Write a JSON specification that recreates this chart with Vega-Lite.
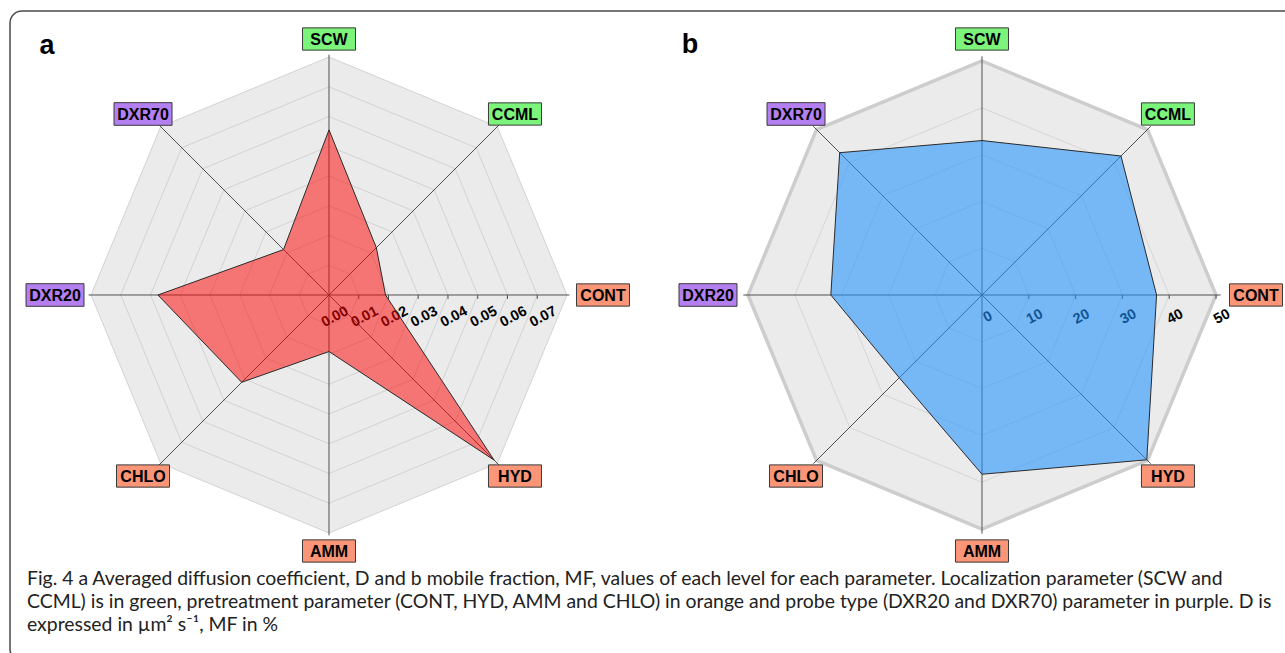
{
  "$schema": "https://vega.github.io/schema/vega-lite/v6.json",
  "width": 1290,
  "height": 650,
  "autosize": "none",
  "padding": {"left": 10, "top": 11, "right": 0, "bottom": 0},
  "background": "white",
  "config": {
    "view": {"stroke": "#4a4a4a", "strokeWidth": 1.5, "cornerRadius": 12, "fill": "white"},
    "font": "Liberation Sans"
  },
  "title": {
    "text": [
      "Fig. 4  a Averaged diffusion coefficient, D and b mobile fraction, MF, values of each level for each parameter. Localization parameter (SCW and",
      "CCML) is in green, pretreatment parameter (CONT, HYD, AMM and CHLO) in orange and probe type (DXR20 and DXR70) parameter in purple. D is",
      "expressed in µm² s⁻¹, MF in %"
    ],
    "orient": "bottom",
    "anchor": "start",
    "frame": "group",
    "offset": -76,
    "dx": 17,
    "font": "Lato",
    "fontSize": 19.4,
    "fontWeight": "normal",
    "color": "#222222",
    "lineHeight": 23,
    "baseline": "alphabetic"
  },
  "datasets": {
    "params": [
      {"param": "SCW", "idx": 0, "group": "loc", "D": 0.0555, "MF": 33.0},
      {"param": "CCML", "idx": 1, "group": "loc", "D": 0.0225, "MF": 42.0},
      {"param": "CONT", "idx": 2, "group": "pre", "D": 0.019, "MF": 37.3},
      {"param": "HYD", "idx": 3, "group": "pre", "D": 0.0785, "MF": 49.8},
      {"param": "AMM", "idx": 4, "group": "pre", "D": 0.019, "MF": 38.3},
      {"param": "CHLO", "idx": 5, "group": "pre", "D": 0.0415, "MF": 25.0},
      {"param": "DXR20", "idx": 6, "group": "probe", "D": 0.0575, "MF": 32.3},
      {"param": "DXR70", "idx": 7, "group": "probe", "D": 0.0216, "MF": 43.0}
    ],
    "gridA": [
      {"level": 0.01, "i": [0, 1, 2, 3, 4, 5, 6, 7]},
      {"level": 0.02, "i": [0, 1, 2, 3, 4, 5, 6, 7]},
      {"level": 0.03, "i": [0, 1, 2, 3, 4, 5, 6, 7]},
      {"level": 0.04, "i": [0, 1, 2, 3, 4, 5, 6, 7]},
      {"level": 0.05, "i": [0, 1, 2, 3, 4, 5, 6, 7]},
      {"level": 0.06, "i": [0, 1, 2, 3, 4, 5, 6, 7]},
      {"level": 0.07, "i": [0, 1, 2, 3, 4, 5, 6, 7]},
      {"level": 0.08, "i": [0, 1, 2, 3, 4, 5, 6, 7]}
    ],
    "gridB": [
      {"level": 10, "i": [0, 1, 2, 3, 4, 5, 6, 7]},
      {"level": 20, "i": [0, 1, 2, 3, 4, 5, 6, 7]},
      {"level": 30, "i": [0, 1, 2, 3, 4, 5, 6, 7]},
      {"level": 40, "i": [0, 1, 2, 3, 4, 5, 6, 7]},
      {"level": 50, "i": [0, 1, 2, 3, 4, 5, 6, 7]}
    ],
    "ticksA": [
      {"v": 0}, {"v": 0.01}, {"v": 0.02}, {"v": 0.03}, {"v": 0.04}, {"v": 0.05}, {"v": 0.06}, {"v": 0.07}
    ],
    "ticksB": [
      {"v": 0}, {"v": 10}, {"v": 20}, {"v": 30}, {"v": 40}, {"v": 50}
    ],
    "panelA": [{"letter": "a"}],
    "panelB": [{"letter": "b"}]
  },
  "resolve": {"scale": {"x": "independent", "y": "independent"}},
  "layer": [
    {
      "encoding": {
        "x": {"field": "x", "type": "quantitative", "scale": {"domain": [-0.107227, 0.326387], "nice": false, "zero": false}, "axis": null},
        "y": {"field": "y", "type": "quantitative", "scale": {"domain": [-0.123025, 0.095462], "nice": false, "zero": false}, "axis": null}
      },
      "layer": [
        {
          "data": {"name": "gridA"},
          "transform": [
            {"filter": "datum.level == 0.08"},
            {"flatten": ["i"]},
            {"calculate": "PI/2 - datum.i*PI/4", "as": "t"},
            {"calculate": "datum.level*cos(datum.t)", "as": "x"},
            {"calculate": "datum.level*sin(datum.t)", "as": "y"}
          ],
          "mark": {"type": "line", "interpolate": "linear-closed", "fill": "#ebebeb", "stroke": "#d2d2d2", "strokeWidth": 1},
          "encoding": {"order": {"field": "i", "type": "quantitative"}}
        },
        {
          "data": {"name": "gridA"},
          "transform": [
            {"filter": "datum.level < 0.08"},
            {"flatten": ["i"]},
            {"calculate": "PI/2 - datum.i*PI/4", "as": "t"},
            {"calculate": "datum.level*cos(datum.t)", "as": "x"},
            {"calculate": "datum.level*sin(datum.t)", "as": "y"}
          ],
          "mark": {"type": "line", "interpolate": "linear-closed", "stroke": "#d2d2d2", "strokeWidth": 1},
          "encoding": {"order": {"field": "i", "type": "quantitative"}, "detail": {"field": "level", "type": "nominal"}}
        },
        {
          "data": {"name": "params"},
          "transform": [
            {"calculate": "PI/2 - datum.idx*PI/4", "as": "t"},
            {"calculate": "0.0808*cos(datum.t)", "as": "x"},
            {"calculate": "0.0808*sin(datum.t)", "as": "y"}
          ],
          "mark": {"type": "rule", "stroke": "#505050", "strokeWidth": 1},
          "encoding": {"x2": {"datum": 0}, "y2": {"datum": 0}}
        },
        {
          "data": {"name": "ticksA"},
          "transform": [
            {"filter": "datum.v > 0"},
            {"calculate": "datum.v", "as": "x"},
            {"calculate": "0", "as": "y"},
            {"calculate": "-4/2975", "as": "y2"}
          ],
          "mark": {"type": "rule", "stroke": "#505050", "strokeWidth": 1},
          "encoding": {"y2": {"field": "y2"}}
        },
        {
          "data": {"name": "ticksA"},
          "transform": [
            {"calculate": "datum.v", "as": "x"},
            {"calculate": "0", "as": "y"}
          ],
          "mark": {"type": "text", "angle": 332, "xOffset": 6, "yOffset": 22, "fontSize": 14.5, "fontWeight": "bold", "align": "center", "baseline": "middle", "color": "#000000"},
          "encoding": {"text": {"field": "v", "type": "quantitative", "format": ".2f"}}
        },
        {
          "data": {"name": "params"},
          "transform": [
            {"calculate": "PI/2 - datum.idx*PI/4", "as": "t"},
            {"calculate": "datum.D*cos(datum.t)", "as": "x"},
            {"calculate": "datum.D*sin(datum.t)", "as": "y"}
          ],
          "mark": {"type": "line", "interpolate": "linear-closed", "fill": "#ff0000", "fillOpacity": 0.5, "stroke": "#2a2a2a", "strokeOpacity": 1, "strokeWidth": 1},
          "encoding": {"order": {"field": "idx", "type": "quantitative"}}
        },
        {
          "data": {"name": "params"},
          "transform": [
            {"calculate": "PI/2 - datum.idx*PI/4", "as": "t"},
            {"calculate": "cos(datum.t)*(abs(cos(datum.t)) > 0.9 ? 274 : 263)/2975", "as": "x"},
            {"calculate": "sin(datum.t)*256/2975", "as": "y"}
          ],
          "layer": [
            {
              "mark": {"type": "point", "stroke": "#3a3a3a", "strokeWidth": 1, "opacity": 1, "fillOpacity": 1, "strokeOpacity": 1},
              "encoding": {
                "fill": {"field": "group", "type": "nominal", "scale": {"domain": ["loc", "pre", "probe"], "range": ["#7cf47c", "#fa9677", "#b47ff1"]}, "legend": null},
                "shape": {"condition": {"test": "datum.group === 'probe'", "value": "M-1,-0.39H1V0.39H-1Z"}, "value": "M-1,-0.42H1V0.42H-1Z"},
                "size": {"condition": {"test": "datum.group === 'probe'", "value": 3364}, "value": 2809}
              }
            },
            {
              "mark": {"type": "text", "fontSize": 16, "fontWeight": "bold", "align": "center", "baseline": "middle", "dy": 1, "color": "#000000"},
              "encoding": {"text": {"field": "param"}}
            }
          ]
        },
        {
          "data": {"name": "panelA"},
          "transform": [
            {"calculate": "-282/2975", "as": "x"},
            {"calculate": "249/2975", "as": "y"}
          ],
          "mark": {"type": "text", "fontSize": 27, "fontWeight": "bold", "align": "center", "baseline": "middle", "color": "#000000"},
          "encoding": {"text": {"field": "letter"}}
        }
      ]
    },
    {
      "encoding": {
        "x": {"field": "x", "type": "quantitative", "scale": {"domain": [-207.692, 67.949], "nice": false, "zero": false}, "axis": null},
        "y": {"field": "y", "type": "quantitative", "scale": {"domain": [-78.205, 60.684], "nice": false, "zero": false}, "axis": null}
      },
      "layer": [
        {
          "data": {"name": "gridB"},
          "transform": [
            {"filter": "datum.level == 50"},
            {"flatten": ["i"]},
            {"calculate": "PI/2 - datum.i*PI/4", "as": "t"},
            {"calculate": "datum.level*cos(datum.t)", "as": "x"},
            {"calculate": "datum.level*sin(datum.t)", "as": "y"}
          ],
          "mark": {"type": "line", "interpolate": "linear-closed", "fill": "#ebebeb", "stroke": "#cdcdcd", "strokeWidth": 3.5},
          "encoding": {"order": {"field": "i", "type": "quantitative"}}
        },
        {
          "data": {"name": "gridB"},
          "transform": [
            {"filter": "datum.level < 50"},
            {"flatten": ["i"]},
            {"calculate": "PI/2 - datum.i*PI/4", "as": "t"},
            {"calculate": "datum.level*cos(datum.t)", "as": "x"},
            {"calculate": "datum.level*sin(datum.t)", "as": "y"}
          ],
          "mark": {"type": "line", "interpolate": "linear-closed", "stroke": "#d6d6d6", "strokeWidth": 1},
          "encoding": {"order": {"field": "i", "type": "quantitative"}, "detail": {"field": "level", "type": "nominal"}}
        },
        {
          "data": {"name": "params"},
          "transform": [
            {"calculate": "PI/2 - datum.idx*PI/4", "as": "t"},
            {"calculate": "51*cos(datum.t)", "as": "x"},
            {"calculate": "51*sin(datum.t)", "as": "y"}
          ],
          "mark": {"type": "rule", "stroke": "#505050", "strokeWidth": 1},
          "encoding": {"x2": {"datum": 0}, "y2": {"datum": 0}}
        },
        {
          "data": {"name": "ticksB"},
          "transform": [
            {"filter": "datum.v > 0"},
            {"calculate": "datum.v", "as": "x"},
            {"calculate": "0", "as": "y"},
            {"calculate": "-4/4.68", "as": "y2"}
          ],
          "mark": {"type": "rule", "stroke": "#505050", "strokeWidth": 1},
          "encoding": {"y2": {"field": "y2"}}
        },
        {
          "data": {"name": "ticksB"},
          "transform": [
            {"calculate": "datum.v", "as": "x"},
            {"calculate": "0", "as": "y"}
          ],
          "mark": {"type": "text", "angle": 332, "xOffset": 6, "yOffset": 22, "fontSize": 14.5, "fontWeight": "bold", "align": "center", "baseline": "middle", "color": "#000000"},
          "encoding": {"text": {"field": "v", "type": "quantitative", "format": "d"}}
        },
        {
          "data": {"name": "params"},
          "transform": [
            {"calculate": "PI/2 - datum.idx*PI/4", "as": "t"},
            {"calculate": "datum.MF*cos(datum.t)", "as": "x"},
            {"calculate": "datum.MF*sin(datum.t)", "as": "y"}
          ],
          "mark": {"type": "line", "interpolate": "linear-closed", "fill": "#1e90ff", "fillOpacity": 0.57, "stroke": "#2a2a2a", "strokeOpacity": 1, "strokeWidth": 1},
          "encoding": {"order": {"field": "idx", "type": "quantitative"}}
        },
        {
          "data": {"name": "params"},
          "transform": [
            {"calculate": "PI/2 - datum.idx*PI/4", "as": "t"},
            {"calculate": "cos(datum.t)*(abs(cos(datum.t)) > 0.9 ? 274 : 263)/4.68", "as": "x"},
            {"calculate": "sin(datum.t)*256/4.68", "as": "y"}
          ],
          "layer": [
            {
              "mark": {"type": "point", "stroke": "#3a3a3a", "strokeWidth": 1, "opacity": 1, "fillOpacity": 1, "strokeOpacity": 1},
              "encoding": {
                "fill": {"field": "group", "type": "nominal", "scale": {"domain": ["loc", "pre", "probe"], "range": ["#7cf47c", "#fa9677", "#b47ff1"]}, "legend": null},
                "shape": {"condition": {"test": "datum.group === 'probe'", "value": "M-1,-0.39H1V0.39H-1Z"}, "value": "M-1,-0.42H1V0.42H-1Z"},
                "size": {"condition": {"test": "datum.group === 'probe'", "value": 3364}, "value": 2809}
              }
            },
            {
              "mark": {"type": "text", "fontSize": 16, "fontWeight": "bold", "align": "center", "baseline": "middle", "dy": 1, "color": "#000000"},
              "encoding": {"text": {"field": "param"}}
            }
          ]
        },
        {
          "data": {"name": "panelB"},
          "transform": [
            {"calculate": "-292/4.68", "as": "x"},
            {"calculate": "250/4.68", "as": "y"}
          ],
          "mark": {"type": "text", "fontSize": 27, "fontWeight": "bold", "align": "center", "baseline": "middle", "color": "#000000"},
          "encoding": {"text": {"field": "letter"}}
        }
      ]
    }
  ]
}
